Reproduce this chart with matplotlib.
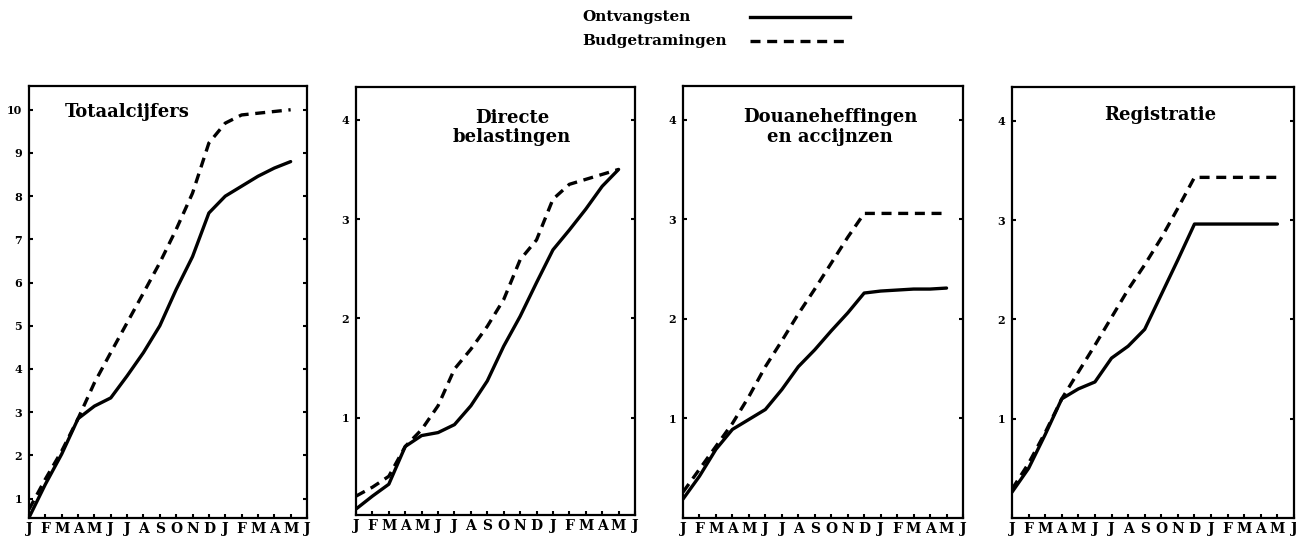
import matplotlib.pyplot as plt
from matplotlib.lines import Line2D

plt.rcParams['font.family'] = ['DejaVu Serif']
plt.rcParams['font.weight'] = 'bold'

# maanden (januari t/m juni van het volgende jaar)
months = ["J", "F", "M", "A", "M", "J", "J", "A", "S", "O", "N", "D",
          "J", "F", "M", "A", "M", "J"]
idx = list(range(17))

# Totaalcijfers
tot_ontv = [0.56, 1.33, 2.03, 2.85, 3.14, 3.33, 3.84, 4.38, 5.0, 5.84, 6.6, 7.61,
            8.0, 8.23, 8.46, 8.65, 8.8]
tot_budget = [0.75, 1.45, 2.1, 2.85, 3.68, 4.38, 5.07, 5.76, 6.46, 7.23, 8.07, 9.23,
              9.69, 9.88, 9.92, 9.96, 10.0]
# Directe belastingen
dir_ontv = [0.08, 0.21, 0.33, 0.71, 0.82, 0.85, 0.93, 1.12, 1.37, 1.72, 2.02, 2.36,
            2.69, 2.89, 3.1, 3.33, 3.5]
dir_budget = [0.21, 0.30, 0.41, 0.71, 0.88, 1.12, 1.49, 1.69, 1.92, 2.19, 2.59, 2.79,
              3.2, 3.35, 3.4, 3.45, 3.5]
# Douaneheffingen en accijnzen
dou_ontv = [0.19, 0.42, 0.69, 0.89, 0.99, 1.09, 1.29, 1.52, 1.69, 1.88, 2.06, 2.26,
            2.28, 2.29, 2.3, 2.3, 2.31]
dou_budget = [0.26, 0.49, 0.72, 0.95, 1.22, 1.52, 1.78, 2.05, 2.3, 2.56, 2.82, 3.06,
              3.06, 3.06, 3.06, 3.06, 3.06]
# Registratie
reg_ontv = [0.26, 0.5, 0.84, 1.2, 1.3, 1.37, 1.61, 1.73, 1.9, 2.25, 2.6, 2.96,
            2.96, 2.96, 2.96, 2.96, 2.96]
reg_budget = [0.29, 0.55, 0.86, 1.2, 1.47, 1.74, 2.02, 2.3, 2.55, 2.82, 3.12, 3.43,
              3.43, 3.43, 3.43, 3.43, 3.43]

W, H = 1296, 542
fig = plt.figure(figsize=(W / 100, H / 100), dpi=100)

# (left, bottom, width, height) in pixels, titel, positie titel, y-bereik, y-ticks
panels = [
    ((29, 24, 278, 432), "Totaalcijfers", (0.13, 0.94, "left"), (0.55, 10.55),
     list(range(1, 11)), tot_ontv, tot_budget),
    ((356, 27, 279, 428), "Directe\nbelastingen", (0.56, 0.905, "center"), (0.02, 4.33),
     [1, 2, 3, 4], dir_ontv, dir_budget),
    ((683, 24, 280, 432), "Douaneheffingen\nen accijnzen", (0.525, 0.905, "center"),
     (0.0, 4.34), [1, 2, 3, 4], dou_ontv, dou_budget),
    ((1012, 24, 282, 431), "Registratie", (0.525, 0.935, "center"), (0.0, 4.34),
     [1, 2, 3, 4], reg_ontv, reg_budget),
]

for (l, b, w, h), title, (tx, ty, ha), ylim, yticks, ontv, budget in panels:
    ax = fig.add_axes([l / W, b / H, w / W, h / H])
    ax.plot(idx, ontv, color="black", lw=2.4, solid_capstyle="round")
    ax.plot(idx, budget, color="black", lw=2.4, linestyle=(0, (3, 2)))
    ax.set_xlim(0, 17)
    ax.set_ylim(*ylim)
    ax.set_xticks(range(18))
    ax.set_xticklabels(months, fontsize=10, fontweight="heavy")
    ax.set_yticks(yticks)
    ax.set_yticklabels([str(t) for t in yticks], fontsize=8, fontweight="bold")
    ax.tick_params(direction="in", length=3, width=1.5, right=True, pad=5)
    ax.tick_params(axis="x", pad=3)
    for s in ax.spines.values():
        s.set_linewidth(1.6)
    ax.text(tx, ty, title, transform=ax.transAxes, ha=ha, va="center",
            fontsize=13, fontweight="bold", linespacing=1.1)

# legenda bovenaan
fig.text(582 / W, 1 - 17 / H, "Ontvangsten", fontsize=11, fontweight="bold", va="center")
fig.text(582 / W, 1 - 41 / H, "Budgetramingen", fontsize=11, fontweight="bold", va="center")
fig.add_artist(Line2D([750 / W, 850 / W], [1 - 17 / H, 1 - 17 / H], color="black",
                      lw=2.4, transform=fig.transFigure))
fig.add_artist(Line2D([750 / W, 850 / W], [1 - 41 / H, 1 - 41 / H], color="black",
                      lw=2.4, linestyle=(0, (3, 2)), transform=fig.transFigure))

fig.savefig("out.png", dpi=100)
